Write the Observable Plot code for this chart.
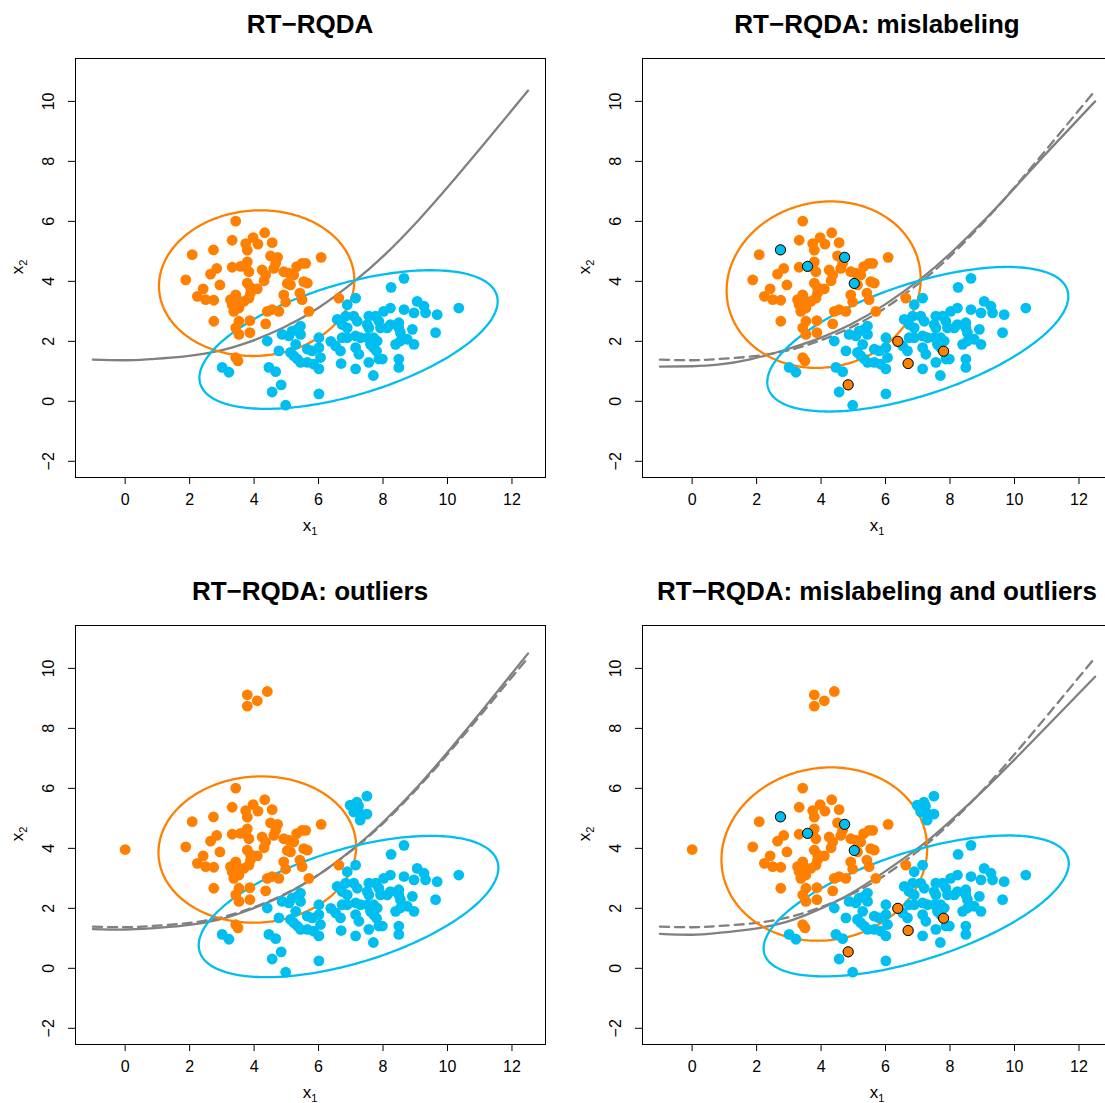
<!DOCTYPE html>
<html>
<head>
<meta charset="utf-8">
<script src="https://cdn.jsdelivr.net/npm/d3@7"></script>
<script src="https://cdn.jsdelivr.net/npm/@observablehq/plot@0.6"></script>
<style>
  html, body { margin: 0; padding: 0; background: #fff; overflow: hidden; }
  #wrap { position: relative; width: 1105px; height: 1103px; overflow: hidden; background: #fff;
          font-family: "Liberation Sans", Arial, Helvetica, sans-serif; color: #000; }
  .panel { position: absolute; width: 567px; height: 567px; }
  .panel svg { position: absolute; left: 0; top: 0; }
  .title { position: absolute; left: 0; top: 11px; width: 620px; text-align: center; font-weight: bold;
           font-size: 26px; line-height: 26px; white-space: nowrap; }
  .xlab { position: absolute; left: 0; top: 517px; width: 620px; text-align: center; font-size: 17px; line-height: 17px; }
  .ylab { position: absolute; left: 17px; top: 267px; transform: translate(-50%, -50%) rotate(-90deg);
          font-size: 17px; line-height: 17px; white-space: nowrap; }
  sub { font-size: 11px; vertical-align: -4px; line-height: 0; }
</style>
</head>
<body>
<div id="wrap"></div>
<script>
// ---------------- data ----------------
const titles = ["RT\u2212RQDA", "RT\u2212RQDA: mislabeling", "RT\u2212RQDA: outliers", "RT\u2212RQDA: mislabeling and outliers"];
const xTicks = [0, 2, 4, 6, 8, 10, 12];
const yTicks = [-2, 0, 2, 4, 6, 8, 10];

// class 1 (orange)
const orangeX = [3.43,4.33,3.97,4.12,3.32,3.74,3.79,4.56,2.08,2.74,6.08,4.51,4.73,4.67,4.61,3.79,3.74,3.84,3.32,3.58,
  2.84,2.65,4.25,4.36,4.31,5.32,5.49,5.60,4.92,5.08,5.23,1.88,2.94,3.79,3.89,4.10,5.03,5.13,5.54,5.65,
  2.42,2.24,2.50,2.75,3.27,3.43,3.32,3.50,3.37,3.53,3.68,3.43,3.89,3.84,4.92,4.98,5.42,5.49,6.63,2.75,
  4.41,4.56,4.77,5.70,3.53,3.43,3.53,3.87,3.87,4.36,3.43,3.50];
const orangeY = [6.01,5.62,5.46,5.24,5.37,5.26,5.04,5.29,4.89,5.05,4.80,4.85,4.80,4.60,4.43,4.65,4.49,4.32,4.47,4.50,
  4.43,4.24,4.38,4.21,4.02,4.49,4.60,4.60,4.32,4.27,4.21,4.05,3.88,3.94,3.79,3.75,3.93,3.88,3.99,3.94,
  3.75,3.50,3.39,3.37,3.39,3.50,3.22,3.28,3.00,3.11,3.33,3.55,3.61,3.44,3.55,3.31,3.61,3.39,3.44,2.67,
  3.00,3.06,3.00,3.00,2.67,2.45,2.23,2.69,2.29,2.58,1.46,1.35];

// class 2 (blue)
const blueX = [3.01,3.22,4.41,4.46,4.67,4.84,4.56,4.98,6.01,4.77,4.87,5.08,5.18,5.34,5.44,5.29,5.13,5.23,5.34,5.44,
  5.65,5.85,6.01,5.65,5.80,6.01,6.01,6.38,6.53,6.68,6.70,6.58,6.73,6.84,6.89,8.65,8.25,7.15,10.35,9.06,
  9.27,9.32,8.96,8.65,9.68,8.23,8.02,7.77,7.56,7.09,7.20,7.87,7.92,8.13,8.23,8.49,8.49,8.54,6.89,8.91,
  9.63,7.51,7.56,6.73,6.89,7.15,7.30,7.51,7.71,7.82,8.39,8.54,8.75,8.96,7.15,7.25,7.61,7.71,7.80,7.87,
  7.98,7.56,7.15,8.49,8.49,7.70,5.44,6.06];
const blueY = [1.13,0.97,2.01,1.13,0.99,0.55,0.31,-0.13,0.25,1.68,2.23,2.18,2.34,2.40,2.51,1.90,1.63,1.52,1.41,1.30,
  1.30,1.24,1.08,1.74,1.68,2.12,1.79,2.00,1.85,1.68,1.26,2.73,2.56,2.84,3.22,4.10,3.80,3.44,3.11,3.33,
  3.17,2.95,2.95,3.06,2.89,3.11,3.00,2.84,2.84,2.84,2.67,2.67,2.45,2.45,2.56,2.62,2.45,2.29,2.45,2.40,
  2.29,2.56,2.45,2.12,2.12,2.18,2.12,2.12,2.12,2.01,1.90,2.01,2.07,1.90,1.79,1.57,1.90,1.79,1.67,1.41,
  1.41,1.30,1.08,1.41,1.13,0.86,2.23,1.46];

// mislabeled points (orange points relabeled blue, blue points relabeled orange)
const misToBlueX = [2.74, 3.58, 4.73, 5.03];
const misToBlueY = [5.05, 4.50, 4.80, 3.93];
const misToOrangeX = [6.38, 7.80, 6.70, 4.84];
const misToOrangeY = [2.00, 1.67, 1.26, 0.55];

// outliers
const outOrangeX = [0.00, 3.79, 4.10, 4.41, 3.79];
const outOrangeY = [3.96, 9.12, 8.92, 9.23, 8.74];
const outBlueX = [6.98, 7.19, 7.24, 7.50, 7.09, 7.29, 7.50, 7.29];
const outBlueY = [5.44, 5.54, 5.41, 5.74, 5.21, 5.16, 5.14, 4.94];

// decision boundaries
const curveX = [-1.0, 0.0, 0.8, 1.8, 2.9, 3.9, 4.9, 6.0, 7.1, 8.0, 9.1, 10.1, 11.1, 12.5];
const boundCleanY   = [1.39, 1.37, 1.41, 1.49, 1.68, 2.00, 2.45, 3.12, 3.99, 4.83, 6.04, 7.26, 8.54, 10.36];
const boundMislabY  = [1.16, 1.17, 1.22, 1.40, 1.72, 2.08, 2.55, 3.24, 4.09, 4.92, 6.08, 7.23, 8.40, 10.00];
const boundOutlY    = [1.31, 1.29, 1.33, 1.42, 1.62, 1.97, 2.43, 3.12, 4.01, 4.87, 6.09, 7.33, 8.63, 10.50];
const boundBothY    = [1.15, 1.12, 1.18, 1.30, 1.54, 1.95, 2.48, 3.24, 4.08, 4.90, 6.00, 7.07, 8.17, 9.72];

// ellipse parameters per panel: centre and covariance entries
const ellOrangeCx  = [4.08, 4.08, 4.10, 4.10];
const ellOrangeCy  = [3.94, 3.89, 3.96, 3.81];
const ellOrangeSxx = [9.18, 9.06, 9.40, 10.18];
const ellOrangeSyy = [5.90, 7.70, 5.95, 8.35];
const ellOrangeSxy = [0.29, 0.60, 0.30, 0.60];
const ellBlueCx  = [6.93, 7.00, 6.93, 6.95];
const ellBlueCy  = [2.06, 2.07, 2.06, 2.08];
const ellBlueSxx = [21.4, 21.8, 21.6, 22.4];
const ellBlueSyy = [5.34, 5.81, 5.55, 5.52];
const ellBlueSxy = [5.90, 6.68, 6.00, 6.70];

// ---------------- drawing ----------------
const ORANGE = "#FF8000", BLUE = "#00BFF0", GRAY = "#808080";
const pts = (xs, ys) => xs.map((x, i) => ({x, y: ys[i]}));
function ellipse(k, cx, cy, sxx, syy, sxy) {
  const a = Math.sqrt(sxx[k]), c = sxy[k] / a, d = Math.sqrt(syy[k] - c * c);
  return d3.range(0, 241).map(i => {
    const t = 2 * Math.PI * i / 240;
    return {x: cx[k] + a * Math.cos(t), y: cy[k] + c * Math.cos(t) + d * Math.sin(t)};
  });
}
const boundaries = [boundCleanY, boundMislabY, boundOutlY, boundBothY];
const offsets = [[0, 0], [567, 0], [0, 567], [567, 567]];
const wrap = document.getElementById("wrap");

for (let k = 0; k < 4; k++) {
  const mislab = k === 1 || k === 3;
  const outl = k === 2 || k === 3;
  let oPts = pts(orangeX, orangeY), bPts = pts(blueX, blueY);
  if (outl) { oPts = oPts.concat(pts(outOrangeX, outOrangeY)); bPts = bPts.concat(pts(outBlueX, outBlueY)); }
  const marks = [];
  if (k > 0) marks.push(Plot.line(pts(curveX, boundCleanY), {x: "x", y: "y", stroke: GRAY, strokeWidth: 2.3, strokeDasharray: "9,6", curve: "natural"}));
  marks.push(Plot.line(pts(curveX, boundaries[k]), {x: "x", y: "y", stroke: GRAY, strokeWidth: 2.3, curve: "natural"}));
  marks.push(Plot.line(ellipse(k, ellOrangeCx, ellOrangeCy, ellOrangeSxx, ellOrangeSyy, ellOrangeSxy), {x: "x", y: "y", stroke: ORANGE, strokeWidth: 2.3}));
  marks.push(Plot.line(ellipse(k, ellBlueCx, ellBlueCy, ellBlueSxx, ellBlueSyy, ellBlueSxy), {x: "x", y: "y", stroke: BLUE, strokeWidth: 2.3}));
  marks.push(Plot.dot(oPts, {x: "x", y: "y", r: 5.4, fill: ORANGE, stroke: "none"}));
  marks.push(Plot.dot(bPts, {x: "x", y: "y", r: 5.4, fill: BLUE, stroke: "none"}));
  if (mislab) {
    marks.push(Plot.dot(pts(misToBlueX, misToBlueY), {x: "x", y: "y", r: 5.1, fill: BLUE, stroke: "#000", strokeWidth: 1}));
    marks.push(Plot.dot(pts(misToOrangeX, misToOrangeY), {x: "x", y: "y", r: 5.1, fill: ORANGE, stroke: "#000", strokeWidth: 1}));
  }
  marks.push(Plot.text(yTicks, {y: d => d, text: d => (d < 0 ? "\u2212" + Math.abs(d) : String(d)), frameAnchor: "left", dx: -27,
    rotate: -90, textAnchor: "middle", lineAnchor: "middle", fontSize: 16}));
  marks.push(Plot.frame({stroke: "#000", strokeWidth: 1}));

  const svg = Plot.plot({
    width: 567, height: 567,
    marginLeft: 75, marginRight: 22, marginTop: 58, marginBottom: 90,
    x: {domain: [-1.54, 13.04], ticks: xTicks, tickSize: 7, tickPadding: 9, label: null},
    y: {domain: [-2.54, 11.43], ticks: yTicks, tickSize: 7, tickFormat: () => "", label: null},
    style: {fontSize: "16px", fontFamily: "'Liberation Sans', Arial, Helvetica, sans-serif", color: "#000", background: "transparent", overflow: "visible"},
    marks
  });

  const panel = document.createElement("div");
  panel.className = "panel";
  panel.style.left = offsets[k][0] + "px";
  panel.style.top = offsets[k][1] + "px";
  panel.appendChild(svg);
  const t = document.createElement("div"); t.className = "title"; t.textContent = titles[k]; panel.appendChild(t);
  const xl = document.createElement("div"); xl.className = "xlab"; xl.innerHTML = "x<sub>1</sub>"; panel.appendChild(xl);
  const yl = document.createElement("div"); yl.className = "ylab"; yl.innerHTML = "x<sub>2</sub>"; panel.appendChild(yl);
  wrap.appendChild(panel);
}
</script>
</body>
</html>
